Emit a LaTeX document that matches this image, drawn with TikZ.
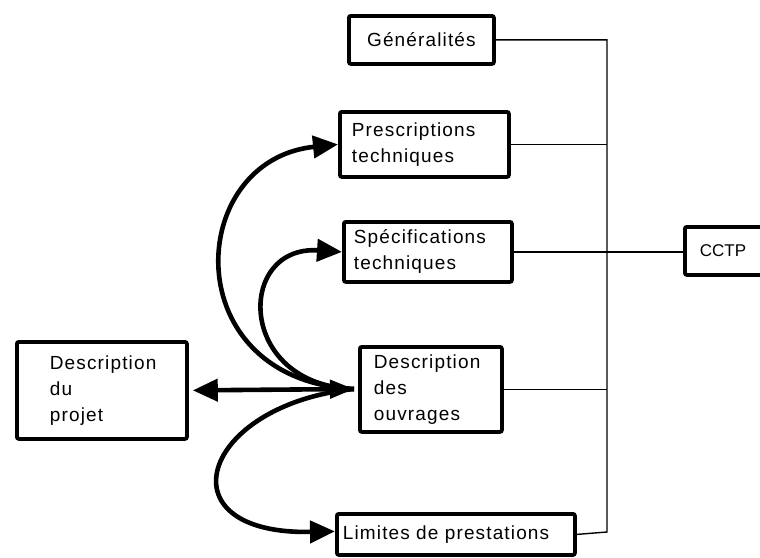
\documentclass[tikz,border=0pt]{standalone}
\usepackage{fontspec}
\setmainfont{Liberation Sans}[LetterSpace=6]
\newfontfamily\cctpfont{Liberation Sans}
\usetikzlibrary{arrows.meta}
\begin{document}
\begin{tikzpicture}[x=1pt,y=-1pt,
  box/.style={draw, line width=3.8pt, rounded corners=2pt, anchor=north west,
    align=left, font=\fontsize{19}{26}\selectfont, inner ysep=0pt},
  link/.style={line width=1.4pt},
  arr/.style={line width=4.6pt, -{Triangle[length=25pt,width=22pt]}},
  darr/.style={line width=4.6pt, {Triangle[length=25pt,width=22pt]}-{Triangle[length=24pt,width=18pt]}},
]
\useasboundingbox (0,0) rectangle (760,557);

\node[box, align=center, minimum width=145pt, minimum height=48pt, text width=125pt, inner xsep=10pt] (gen) at (347,14) {Généralités};
\node[box, minimum width=169pt, minimum height=65pt, text width=145pt, inner xsep=12pt] (pres) at (338,110) {Prescriptions\\techniques};
\node[box, minimum width=168pt, minimum height=60pt, text width=148pt, inner xsep=10pt] (spec) at (342,220) {Spécifications\\techniques};
\node[box, minimum width=142pt, minimum height=85pt, text width=114pt, inner xsep=14pt] (ouv) at (358,345) {Description\\des\\ouvrages};
\node[box, minimum width=170pt, minimum height=97pt, text width=104pt, inner xsep=33pt] (proj) at (15,340) {Description\\du\\projet};
\node[box, minimum width=238pt, minimum height=41pt, text width=226pt, inner xsep=6pt] (lim) at (335,512) {Limites de prestations};
\begin{scope}
\clip (0,0) rectangle (760,557);
\node[box, font=\cctpfont\fontsize{17}{20}\selectfont, minimum width=95pt, minimum height=48pt, text width=65pt, inner xsep=15pt] (cctp) at (683,225) {CCTP};
\end{scope}

% bus
\coordinate (vt) at (607,40);
\coordinate (vb) at (607,532);
\draw[link] (gen.east) -- (gen.east -| vt) -- (vb) -- (lim.east);
\draw[link] (pres.east) -- (pres.east -| vt);
\draw[link] (spec.east) -- (spec.east -| cctp.west);
\draw[link] (ouv.east) -- (ouv.east -| vt);

% arrows
\coordinate (hub) at (354,389);
\draw[darr, shorten <=4pt] (proj.east) -- (hub);
\draw[arr] (hub) .. controls (175,380) and (185,160) .. (pres.west);
\draw[arr] (hub) .. controls (236,385) and (236,245) .. (spec.west);
\draw[arr] (hub) .. controls (200,405) and (160,535) .. ([yshift=3pt]lim.west);
\end{tikzpicture}
\end{document}
